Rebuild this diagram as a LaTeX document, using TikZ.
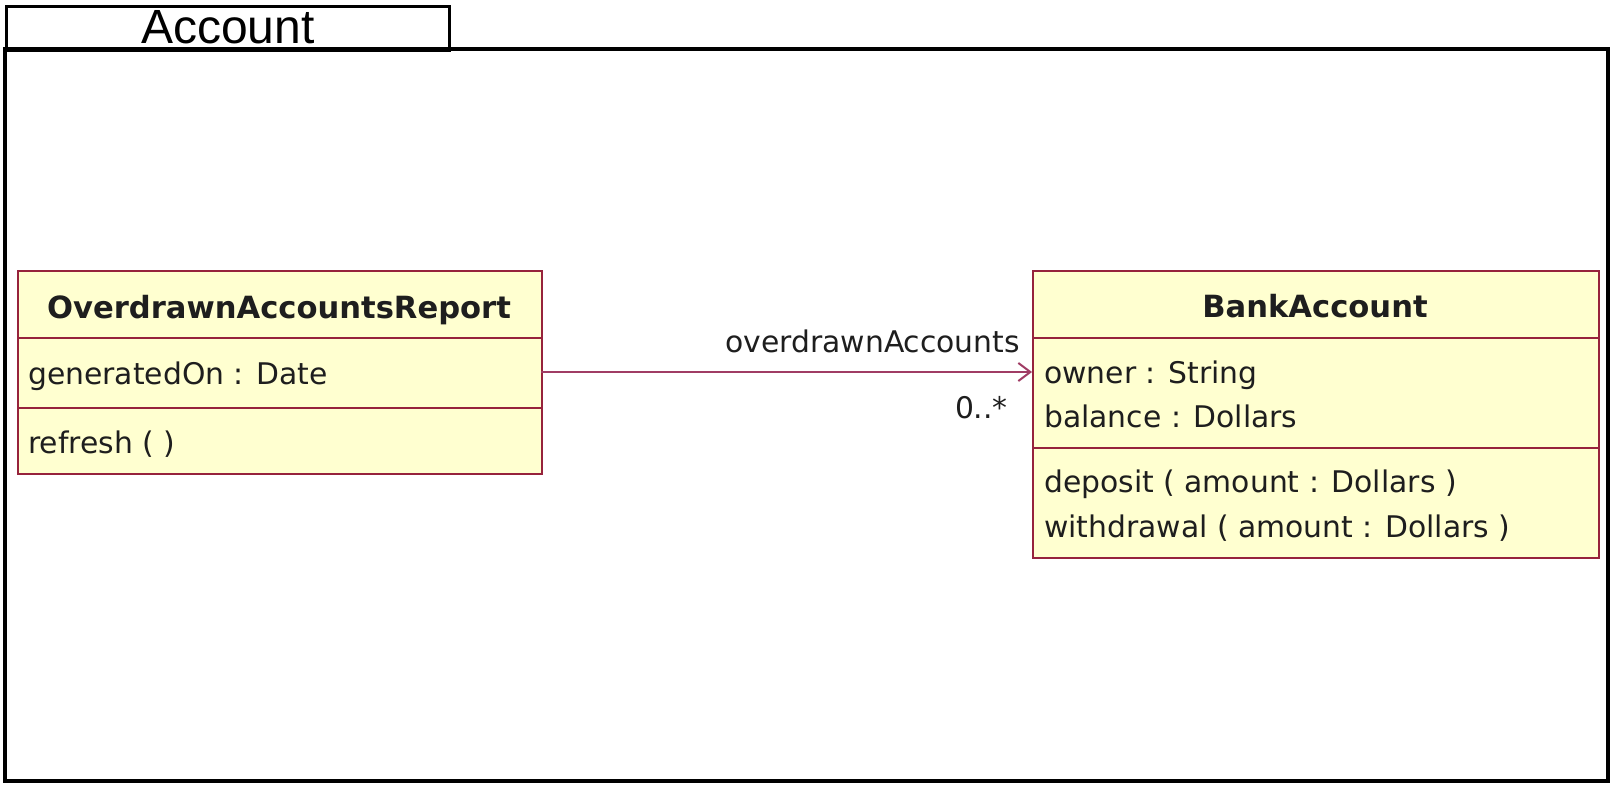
\documentclass[tikz,border=0pt]{standalone}
\usepackage{fontspec}
\setmainfont{Liberation Sans}
\newfontfamily\umlfont{DejaVu Sans}
\usetikzlibrary{arrows.meta}
\definecolor{umlborder}{RGB}{150,35,60}
\definecolor{umlfill}{RGB}{255,255,208}
\definecolor{umlline}{RGB}{160,60,100}
\definecolor{umltext}{RGB}{30,30,30}
\tikzset{
  frameline/.style={draw=black, line width=3.2pt},
  classbox/.style={draw=umlborder, fill=umlfill, line width=2pt, inner sep=0pt, anchor=north west},
  divider/.style={draw=umlborder, line width=2pt},
  member/.style={anchor=base west, inner sep=0pt, text=umltext, font=\umlfont\fontsize{29.8}{34}\selectfont},
  classname/.style={anchor=base, inner sep=0pt, text=umltext, font=\umlfont\bfseries\fontsize{30.6}{34}\selectfont},
  assoc/.style={draw=umlline, line width=2pt, -{Straight Barb[length=12pt,width=18pt,line width=2pt]}},
  assoclabel/.style={inner sep=0pt, text=umltext, font=\umlfont\fontsize{29.8}{34}\selectfont}
}
\begin{document}
\begin{tikzpicture}[x=1pt,y=-1pt]
\useasboundingbox (0,0) rectangle (1614,785);
% package frame
\draw[frameline] (5,49) rectangle (1608,781);
\node[draw=black, line width=3.2pt, anchor=north west, minimum width=443pt, minimum height=44pt, inner sep=0pt] (tab) at (5,5) {};
\node[anchor=base, inner sep=0pt, font=\fontsize{48}{50}\selectfont] (tabname) at (228,43) {Account};
% OverdrawnAccountsReport
\node[classbox, minimum width=524pt, minimum height=203pt] (rep) at (17,270) {};
\draw[divider] (17,338) -- (541,338);
\draw[divider] (17,408) -- (541,408);
\node[classname] (repname) at (279,318) {OverdrawnAccountsReport};
\node[member] (repattr) at (28,384) {generatedOn : Date};
\node[member] (repop) at (28,453) {refresh ( )};
% BankAccount
\node[classbox, minimum width=566pt, minimum height=287pt] (bank) at (1032,270) {};
\draw[divider] (1032,338) -- (1598,338);
\draw[divider] (1032,448) -- (1598,448);
\node[classname] (bankname) at (1315,317) {BankAccount};
\node[member] (owner) at (1044,383) {owner : String};
\node[member] (balance) at (1044,427) {balance : Dollars};
\node[member] (deposit) at (1044,492) {deposit ( amount : Dollars )};
\node[member] (withdraw) at (1044,537) {withdrawal ( amount : Dollars )};
% association
\coordinate (src) at (541,372);
\coordinate (dst) at (1032,372);
\draw[assoc] (src) -- (dst);
\node[assoclabel, anchor=base east] (role) at (1020,352) {overdrawnAccounts};
\node[assoclabel, anchor=base east] (mult) at (1008,418) {0..*};
\end{tikzpicture}
\end{document}
